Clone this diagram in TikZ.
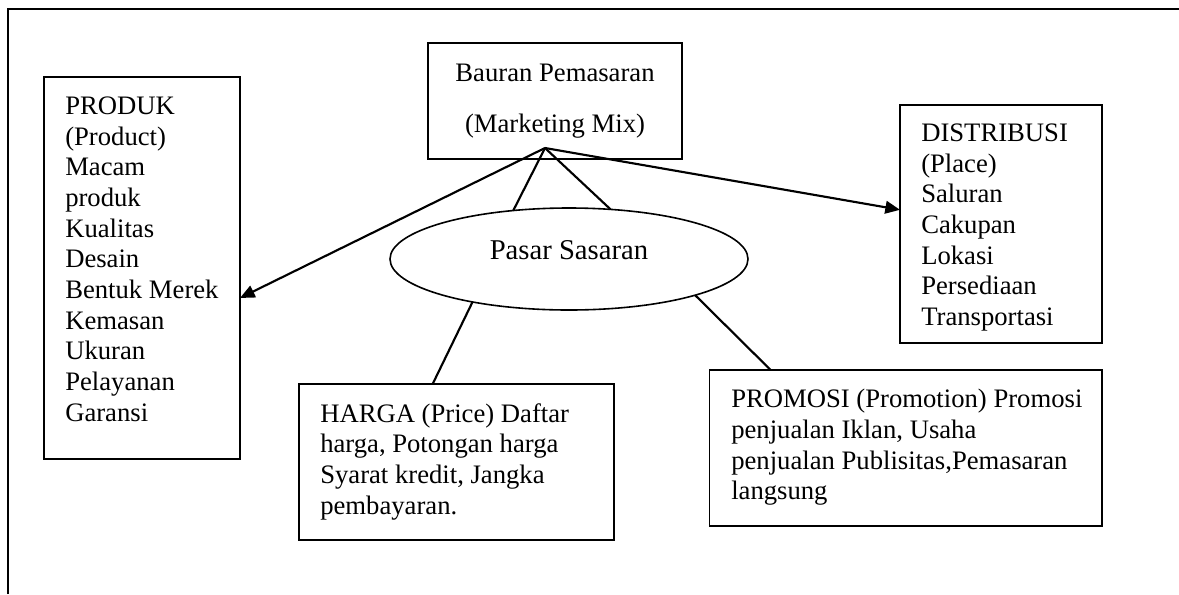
\documentclass[tikz,border=0pt]{standalone}
\usepackage{fontspec}
\setmainfont{Liberation Serif}
\usetikzlibrary{arrows.meta,shapes.geometric}

\tikzset{
  box/.style={draw, rectangle, line width=1.4pt, inner sep=0pt, outer sep=0pt},
  txt/.style={anchor=north west, inner sep=0pt, align=left, font=\fontsize{20}{23}\selectfont},
  link/.style={line width=1.6pt},
  arr/.style={line width=1.6pt, -{Triangle[length=11pt,width=9.5pt]}},
}

\begin{document}
\begin{tikzpicture}[x=0.75pt,y=0.75pt,yscale=-1,xscale=1]
\useasboundingbox (0,0) rectangle (1179,594);

%Frame (top and left side only)
\draw [line width=1.5pt] (8.4,594) -- (8.4,9.3) -- (1179,9.3);

%Shape: Rectangle
\node [box, align=center, font=\fontsize{20}{23}\selectfont, minimum width=190.5pt, minimum height=87pt] (bauran) at (555,101) {Bauran Pemasaran\\[15pt](Marketing Mix)};
%Shape: Rectangle
\node [box, minimum width=147pt, minimum height=286.5pt] (produk) at (142,268) {};
%Shape: Rectangle
\node [box, minimum width=151.5pt, minimum height=178.5pt] (distribusi) at (1001,224) {};
%Shape: Rectangle
\node [box, minimum width=236.25pt, minimum height=117pt] (harga) at (456.5,462) {};
%Shape: Rectangle
\node [box, minimum width=294.4pt, minimum height=117pt] (promosi) at (905.75,448) {};
%Shape: Ellipse
\node [ellipse, draw, line width=1.2pt, inner sep=0pt, outer sep=0pt, minimum width=268.5pt, minimum height=76.5pt, text depth=13pt, font=\fontsize{21.5}{25}\selectfont] (pasar) at (569,259) {Pasar Sasaran};

\coordinate (apex) at (545,148);

%Straight Lines
\draw [arr] (apex) -- (produk.-17);
\draw [arr] (apex) -- (distribusi.172);
\draw [link] (apex) -- (pasar.139);
\draw [link] (apex) -- (pasar.50);
\draw [link] (pasar.204) -- (harga.107);
\draw [link] (pasar.344) -- (promosi.150);

% Text Node
\node [txt] (produktext) at (65,96.5) {PRODUK\\(Product)\\Macam\\produk\\Kualitas\\Desain\\Bentuk Merek\\Kemasan\\Ukuran\\Pelayanan\\Garansi};
% Text Node
\node [txt] (distribusitext) at (921,123.5) {DISTRIBUSI\\(Place)\\Saluran\\Cakupan\\Lokasi\\Persediaan\\Transportasi};
% Text Node
\node [txt] (hargatext) at (320,403) {HARGA (Price) Daftar\\harga, Potongan harga\\Syarat kredit, Jangka\\pembayaran.};
% Text Node
\node [txt] (promositext) at (731,389) {PROMOSI (Promotion) Promosi\\penjualan Iklan, Usaha\\penjualan Publisitas,Pemasaran\\langsung};

\end{tikzpicture}
\end{document}
